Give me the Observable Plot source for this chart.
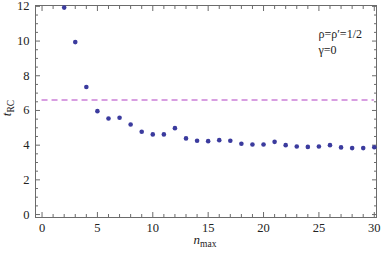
<!DOCTYPE html>
<html>
<head>
<meta charset="utf-8">
<script src="https://cdn.jsdelivr.net/npm/d3@7"></script>
<script src="https://cdn.jsdelivr.net/npm/@observablehq/plot@0.6"></script>
<style>
  html, body { margin: 0; padding: 0; background: #fff; }
  #chart svg { display: block; }
  #chart svg text { font-family: "Liberation Serif", "Times New Roman", serif !important; }
</style>
</head>
<body>
<div id="chart"></div>
<script>
const nmax = [2,3,4,5,6,7,8,9,10,11,12,13,14,15,16,17,18,19,20,21,22,23,24,25,26,27,28,29,30];
const tRC  = [11.93,9.94,7.35,5.96,5.54,5.58,5.19,4.77,4.62,4.62,4.98,4.39,4.25,4.23,4.29,4.25,4.08,4.04,4.04,4.19,4.00,3.92,3.90,3.92,4.00,3.87,3.83,3.83,3.88];
const limitValue = 6.6;
const limitRange = [0, 30];
const xMajorTicks = [0,5,10,15,20,25,30];
const xMinorTicks = d3.range(0, 31, 1).filter(v => v % 5 !== 0);
const yMajorTicks = [0,2,4,6,8,10,12];
const yMinorTicks = d3.range(0, 12.01, 0.5).filter(v => v % 2 !== 0);
const annotation = ["ρ=ρ′=1/2", "γ=0"];

const data = nmax.map((n, i) => ({n, t: tRC[i]}));
const frameColor = "#6b6b6b";
const font = "Liberation Serif, Times New Roman, serif";

const chart = Plot.plot({
  width: 382,
  height: 254,
  marginLeft: 35,
  marginRight: 6,
  marginTop: 5,
  marginBottom: 37,
  style: {fontFamily: font, fontSize: "12px", color: "#333", background: "#fff"},
  x: {domain: [-0.59, 30.2]},
  y: {domain: [-0.17, 12.05]},
  marks: [
    Plot.frame({stroke: frameColor}),
    Plot.axisX({anchor: "bottom", ticks: xMajorTicks, tickSize: -5, tickFormat: () => "", label: null, stroke: frameColor}),
    Plot.axisX({anchor: "bottom", ticks: xMinorTicks, tickSize: -3, tickFormat: () => "", label: null, stroke: frameColor}),
    Plot.axisX({anchor: "bottom", ticks: xMajorTicks, tickSize: 0, tickPadding: 6, label: null, fill: "#222", fontSize: 12.5}),
    Plot.axisX({anchor: "top", ticks: xMajorTicks, tickSize: -5, tickFormat: () => "", label: null, stroke: frameColor}),
    Plot.axisX({anchor: "top", ticks: xMinorTicks, tickSize: -3, tickFormat: () => "", label: null, stroke: frameColor}),
    Plot.axisY({anchor: "left", ticks: yMajorTicks, tickSize: -5, tickFormat: () => "", label: null, stroke: frameColor}),
    Plot.axisY({anchor: "left", ticks: yMinorTicks, tickSize: -3, tickFormat: () => "", label: null, stroke: frameColor}),
    Plot.axisY({anchor: "left", ticks: yMajorTicks, tickSize: 0, tickPadding: 6, label: null, fill: "#222", fontSize: 12.5}),
    Plot.axisY({anchor: "right", ticks: yMajorTicks, tickSize: -5, tickFormat: () => "", label: null, stroke: frameColor}),
    Plot.axisY({anchor: "right", ticks: yMinorTicks, tickSize: -3, tickFormat: () => "", label: null, stroke: frameColor}),
    Plot.ruleY([limitValue], {x1: limitRange[0], x2: limitRange[1], stroke: "#cc7fd8", strokeWidth: 1.6, strokeDasharray: "6,4"}),
    Plot.dot(data, {x: "n", y: "t", r: 2.3, fill: "#3b3b9e", stroke: "none"}),
    Plot.text([annotation[0]], {frameAnchor: "top-left", dx: 283, dy: 32, text: d => d, fontSize: 12, fill: "#222", textAnchor: "start", lineAnchor: "bottom"}),
    Plot.text([annotation[1]], {frameAnchor: "top-left", dx: 283, dy: 48, text: d => d, fontSize: 12, fill: "#222", textAnchor: "start", lineAnchor: "bottom"})
  ]
});

const svg = d3.select(chart);
const yl = svg.append("text")
  .attr("transform", "translate(11,108) rotate(-90)")
  .attr("text-anchor", "middle")
  .attr("font-size", 13)
  .attr("fill", "#222");
yl.append("tspan").attr("font-style", "italic").text("t");
yl.append("tspan").attr("font-size", 9.5).attr("dy", 3).text("RC");

const xl = svg.append("text")
  .attr("x", 205)
  .attr("y", 244)
  .attr("text-anchor", "middle")
  .attr("font-size", 13)
  .attr("fill", "#222");
xl.append("tspan").attr("font-style", "italic").text("n");
xl.append("tspan").attr("font-size", 9.5).attr("dy", 3).text("max");

document.getElementById("chart").appendChild(chart);
</script>
</body>
</html>
